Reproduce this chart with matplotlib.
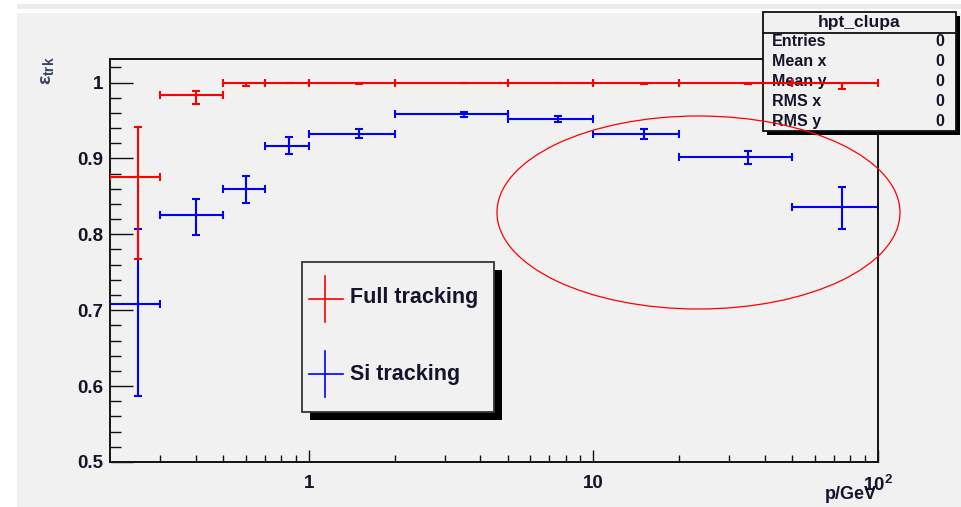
import matplotlib
matplotlib.use('Agg')
import matplotlib.pyplot as plt
from matplotlib.patches import Rectangle, Ellipse
from matplotlib.lines import Line2D
from matplotlib.ticker import FixedLocator, FixedFormatter, NullFormatter

plt.rcParams['font.family'] = ['Liberation Sans', 'DejaVu Sans']
plt.rcParams['mathtext.fontset'] = 'custom'
plt.rcParams['mathtext.rm'] = 'Liberation Sans:bold'
plt.rcParams['mathtext.it'] = 'Liberation Sans:bold'
plt.rcParams['mathtext.bf'] = 'Liberation Sans:bold'

# ---------------- data ----------------
bin_lo = [0.2, 0.3, 0.5, 0.7, 1, 2, 5, 10, 20, 50]
bin_hi = [0.3, 0.5, 0.7, 1, 2, 5, 10, 20, 50, 100]
p_center = [0.25, 0.4, 0.6, 0.85, 1.5, 3.5, 7.5, 15, 35, 75]

full_eff = [0.876, 0.983, 1.0, 1.0, 1.0, 1.0, 1.0, 1.0, 1.0, 1.0]
full_err_lo = [0.108, 0.011, 0.004, 0.001, 0.002, 0.0, 0.0, 0.002, 0.002, 0.008]
full_err_hi = [0.065, 0.006, 0.0, 0.0, 0.0, 0.0, 0.0, 0.0, 0.0, 0.0]

si_eff = [0.708, 0.825, 0.860, 0.917, 0.932, 0.958, 0.952, 0.932, 0.902, 0.836]
si_err_lo = [0.121, 0.026, 0.019, 0.011, 0.005, 0.003, 0.004, 0.007, 0.009, 0.029]
si_err_hi = [0.099, 0.022, 0.017, 0.011, 0.007, 0.003, 0.004, 0.007, 0.008, 0.026]

x_major = [1, 10, 100]
x_major_labels = ['1', '10', r'$10^{2}$']
x_minor = [0.3, 0.4, 0.5, 0.6, 0.7, 0.8, 0.9, 2, 3, 4, 5, 6, 7, 8, 9,
           20, 30, 40, 50, 60, 70, 80, 90]
y_major = [0.5, 0.6, 0.7, 0.8, 0.9, 1.0]
y_major_labels = ['0.5', '0.6', '0.7', '0.8', '0.9', '1']
y_minor = [0.52, 0.54, 0.56, 0.58, 0.62, 0.64, 0.66, 0.68, 0.72, 0.74, 0.76, 0.78,
           0.82, 0.84, 0.86, 0.88, 0.92, 0.94, 0.96, 0.98, 1.02]

stats_names = ['Entries', 'Mean x', 'Mean y', 'RMS x', 'RMS y']
stats_values = ['0', '0', '0', '0', '0']
legend_labels = ['Full tracking', 'Si tracking']

# ---------------- figure ----------------
W, H = 961, 507
fig = plt.figure(figsize=(W / 100, H / 100), dpi=100, facecolor='white')
BG = '#f1f1f1'
TXT = '#14142a'


def fx(px):
    return px / W


def fy(py):
    return 1 - py / H


# background panels
fig.patches.append(Rectangle((fx(17), fy(507)), fx(961) - fx(17), fy(13) - fy(507),
                             transform=fig.transFigure, facecolor=BG, edgecolor='none', zorder=-10))
fig.patches.append(Rectangle((fx(17), fy(9)), fx(961) - fx(17), fy(4) - fy(9),
                             transform=fig.transFigure, facecolor='#ececec', edgecolor='none', zorder=-10))

ax = fig.add_axes([fx(110), fy(462), fx(878) - fx(110), fy(59) - fy(462)])
ax.set_facecolor(BG)
ax.set_xscale('log')
ax.set_xlim(0.2, 100)
ax.set_ylim(0.5, 1.031)

for s in ['left', 'bottom', 'right', 'top']:
    ax.spines[s].set_linewidth(1.4)
    ax.spines[s].set_color('#111111')

ax.xaxis.set_major_locator(FixedLocator(x_major))
ax.xaxis.set_major_formatter(FixedFormatter(x_major_labels))
ax.xaxis.set_minor_locator(FixedLocator(x_minor))
ax.xaxis.set_minor_formatter(NullFormatter())
ax.yaxis.set_major_locator(FixedLocator(y_major))
ax.yaxis.set_major_formatter(FixedFormatter(y_major_labels))
ax.yaxis.set_minor_locator(FixedLocator(y_minor))
ax.yaxis.set_minor_formatter(NullFormatter())

ax.tick_params(axis='both', which='both', direction='in', top=False, right=False,
               color='#111111', width=1.0)
ax.tick_params(axis='y', which='major', length=16.5, pad=5, labelsize=13.5, labelcolor=TXT)
ax.tick_params(axis='y', which='minor', length=8)
ax.tick_params(axis='x', which='major', length=8.6, pad=9, labelsize=13.5, labelcolor=TXT)
ax.tick_params(axis='x', which='minor', length=5)
for lab in ax.get_xticklabels() + ax.get_yticklabels():
    lab.set_fontweight('bold')

# error bars
xerr = [[c - lo for c, lo in zip(p_center, bin_lo)], [hi - c for c, hi in zip(p_center, bin_hi)]]
ax.errorbar(p_center, si_eff, xerr=xerr, yerr=[si_err_lo, si_err_hi], fmt='none',
            ecolor='#0000ff', elinewidth=1.5, capsize=3, capthick=1.5, zorder=2)
ax.errorbar(p_center, full_eff, xerr=xerr, yerr=[full_err_lo, full_err_hi], fmt='none',
            ecolor='#ff0000', elinewidth=1.5, capsize=3, capthick=1.5, zorder=6)

# stats box (over the frame, under the red data)
bx0, bx1, by0, by1 = 763, 956, 12, 131
ax.add_patch(Rectangle((fx(bx0 + 4), fy(by1 + 4)), fx(bx1) - fx(bx0), fy(by0) - fy(by1),
                       transform=fig.transFigure, facecolor='black', edgecolor='none',
                       clip_on=False, zorder=3))
ax.add_patch(Rectangle((fx(bx0), fy(by1)), fx(bx1) - fx(bx0), fy(by0) - fy(by1),
                       transform=fig.transFigure, facecolor=BG, edgecolor='#111111',
                       linewidth=1.3, clip_on=False, zorder=3.1))
ax.add_line(Line2D([fx(bx0), fx(bx1)], [fy(33), fy(33)], transform=fig.transFigure,
                   color='#111111', linewidth=1.3, clip_on=False, zorder=3.2))
ax.text(fx((bx0 + bx1) / 2), fy(22.5), 'hpt_clupa', transform=fig.transFigure,
        ha='center', va='center', fontsize=12.5, fontweight='bold', color=TXT, zorder=3.3,
        clip_on=False)
for i, (nm, val) in enumerate(zip(stats_names, stats_values)):
    yy = 42 + i * 19.8
    ax.text(fx(772), fy(yy), nm, transform=fig.transFigure, ha='left', va='center',
            fontsize=11.5, fontweight='bold', color=TXT, zorder=3.3, clip_on=False)
    ax.text(fx(944), fy(yy), val, transform=fig.transFigure, ha='right', va='center',
            fontsize=11.5, fontweight='bold', color=TXT, zorder=3.3, clip_on=False)

# legend box
lx0, lx1, ly0, ly1 = 302, 494, 262, 412
fig.patches.append(Rectangle((fx(lx0 + 8), fy(ly1 + 8)), fx(lx1) - fx(lx0), fy(ly0) - fy(ly1),
                             transform=fig.transFigure, facecolor='black', edgecolor='none', zorder=5))
fig.patches.append(Rectangle((fx(lx0), fy(ly1)), fx(lx1) - fx(lx0), fy(ly0) - fy(ly1),
                             transform=fig.transFigure, facecolor=BG, edgecolor='#333333',
                             linewidth=1.3, zorder=5.1))
for lbl, col, cy, base in zip(legend_labels, ['#ff0000', '#0000ff'], [299, 374], [303, 380]):
    fig.lines.append(Line2D([fx(309), fx(343)], [fy(cy), fy(cy)], transform=fig.transFigure,
                            color=col, linewidth=1.2, zorder=5.2))
    fig.lines.append(Line2D([fx(325), fx(325)], [fy(cy - 23), fy(cy + 23)], transform=fig.transFigure,
                            color=col, linewidth=1.2, zorder=5.2))
    fig.text(fx(350), fy(base), lbl, ha='left', va='baseline', fontsize=15.5,
             fontweight='bold', color=TXT, zorder=5.3)

# annotation ellipse
fig.patches.append(Ellipse((fx(698.5), fy(212.5)), fx(403), 193 / H, transform=fig.transFigure,
                           facecolor='none', edgecolor='#ff0000', linewidth=0.9, zorder=7))

# axis titles
fig.text(fx(47), fy(56), r'$ε_{trk}$', rotation=90, ha='center', va='top',
         fontsize=14, color='#3a4260')
fig.text(fx(877), fy(499), 'p/GeV', ha='right', va='baseline', fontsize=13,
         fontweight='bold', color=TXT)

fig.savefig('out.png', dpi=100, facecolor=fig.get_facecolor())
